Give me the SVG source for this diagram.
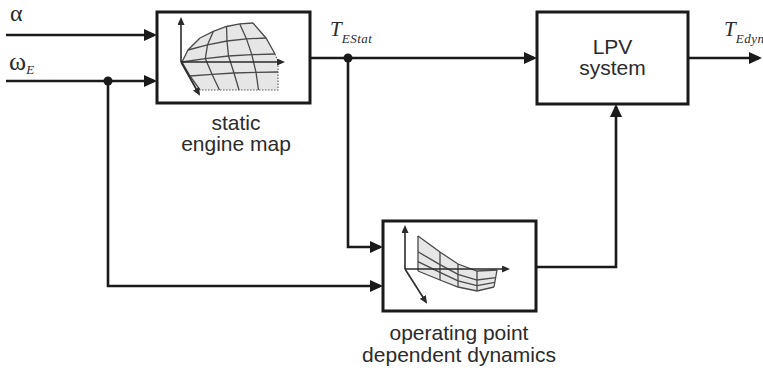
<svg xmlns="http://www.w3.org/2000/svg" width="763" height="372" viewBox="0 0 763 372">
  <defs>
    <marker id="arr" markerWidth="13" markerHeight="12" refX="10" refY="6" orient="auto" markerUnits="userSpaceOnUse">
      <path d="M0,0 L13,6 L0,12 z" fill="#1a1a1a"/>
    </marker>
    <marker id="ax" markerWidth="8" markerHeight="7" refX="6" refY="3.5" orient="auto" markerUnits="userSpaceOnUse">
      <path d="M0,0 L8,3.5 L0,7 z" fill="#2a2a2a"/>
    </marker>
    <style>
      .box { fill: #ffffff; stroke: #1a1a1a; stroke-width: 3; }
      .wire { fill: none; stroke: #1a1a1a; stroke-width: 2.6; }
      .dot { fill: #1a1a1a; }
      .lbl { font-family: "Liberation Sans", Arial, sans-serif; font-size: 21px; fill: #2b2b2b; text-anchor: middle; }
      .math { font-family: "Liberation Serif", "Times New Roman", serif; fill: #2b2b2b; }
      .axis { fill: none; stroke: #2a2a2a; stroke-width: 1.6; }
      .surf { fill: #dcdcdc; fill-opacity: 0.7; stroke: none; }
      .grid { fill: none; stroke: #4a4a4a; stroke-width: 1.3; }
      .dash { fill: none; stroke: #555; stroke-width: 1.1; stroke-dasharray: 1.5 1.5; }
    </style>
  </defs>

  <!-- signal wires -->
  <g id="connectors">
    <path class="wire" d="M6,35 H154" marker-end="url(#arr)"/>
    <path class="wire" d="M6,81 H154" marker-end="url(#arr)"/>
    <path class="wire" d="M108,81 V286 H380" marker-end="url(#arr)"/>
    <path class="wire" d="M310,58 H534" marker-end="url(#arr)"/>
    <path class="wire" d="M348,58 V247 H380" marker-end="url(#arr)"/>
    <path class="wire" d="M688,58 H759" marker-end="url(#arr)"/>
    <path class="wire" d="M536,267 H616 V107" marker-end="url(#arr)"/>
    <circle class="dot" cx="108" cy="81" r="4.5"/>
    <circle class="dot" cx="348" cy="58" r="4.5"/>
  </g>

  <!-- signal labels -->
  <g id="signals">
    <text class="math" x="10" y="21" font-size="24">α</text>
    <text class="math" x="9" y="70" font-size="26">ω<tspan font-size="13" font-style="italic" dy="4">E</tspan></text>
    <text class="math" x="330" y="36" font-size="21" font-style="italic">T<tspan font-size="13" dy="7" letter-spacing="0.5">EStat</tspan></text>
    <text class="math" x="724" y="36" font-size="21" font-style="italic">T<tspan font-size="13" dy="7" letter-spacing="0.5">Edyn</tspan></text>
  </g>

  <!-- static engine map block -->
  <g id="static-map">
    <rect class="box" x="157" y="12" width="153" height="91"/>
    <!-- surface patch -->
    <path class="surf" d="M200,38 L213.3,31.4 L226.5,26.5 L239.8,23.9 L253,23 L266,38 L275,54 L278,72 L278,90 L258.5,90 L239,90 L219.5,90 L200,90 L190,76 L182,62 L188,50 Z"/>
    <path class="grid" d="M200,38 L213.3,31.4 L226.5,26.5 L239.8,23.9 L253,23"/>
    <path class="grid" d="M188,50 L207.5,44.9 L227,41 L246.5,38.9 L266,38"/>
    <path class="grid" d="M182,62 L205.3,58.6 L228.5,56 L251.8,54.6 L275,54"/>
    <path class="grid" d="M190,76 L212,74.3 L234,73 L256,72.3 L278,72"/>
    <path class="grid" d="M200,38 L188,50 L182,62 L190,76 L200,90"/>
    <path class="grid" d="M213.3,31.4 L207.5,44.9 L205.3,58.6 L212,74.3 L219.5,90"/>
    <path class="grid" d="M226.5,26.5 L227,41 L228.5,56 L234,73 L239,90"/>
    <path class="grid" d="M239.8,23.9 L246.5,38.9 L251.8,54.6 L256,72.3 L258.5,90"/>
    <path class="grid" d="M253,23 L266,38 L275,54"/>
    <path class="dash" d="M275,54 L278,62 L278,90 L200,90"/>
    <!-- axes -->
    <path class="axis" d="M181,62 V19" marker-end="url(#ax)"/>
    <path class="axis" d="M181,62 H283" marker-end="url(#ax)"/>
    <path class="axis" d="M181,62 L199,94" marker-end="url(#ax)"/>
    <text class="lbl" x="236" y="130">static</text>
    <text class="lbl" x="236" y="151">engine map</text>
  </g>

  <!-- LPV block -->
  <g id="lpv">
    <rect class="box" x="537" y="12" width="151" height="92"/>
    <text class="lbl" x="612.5" y="54">LPV</text>
    <text class="lbl" x="612.5" y="75">system</text>
  </g>

  <!-- operating point dependent dynamics block -->
  <g id="op-dynamics">
    <rect class="box" x="383" y="221" width="153" height="90"/>
    <path class="surf" d="M418,236 L440,252 L458,264 L477,271 L497,270 L494,287 L477,291 L458,287 L440,280 L418,271 Z"/>
    <path class="grid" d="M418,236 L440,252 L458,264 L477,271 L497,270"/>
    <path class="grid" d="M418,251.8 L440,264.6 L458,274.4 L477,280 L495.7,277.7"/>
    <path class="grid" d="M418,261.6 L440,272.4 L458,280.8 L477,285.6 L494.8,282.4"/>
    <path class="grid" d="M418,271 L440,280 L458,287 L477,291 L494,287"/>
    <path class="grid" d="M418,236 V271 M440,252 V280 M458,264 V287 M477,271 V291 M497,270 L494,287"/>
    <path class="axis" d="M405,269 V227" marker-end="url(#ax)"/>
    <path class="axis" d="M405,269 H508" marker-end="url(#ax)"/>
    <path class="axis" d="M405,269 L426,302" marker-end="url(#ax)"/>
    <text class="lbl" x="459" y="340">operating point</text>
    <text class="lbl" x="459" y="362">dependent dynamics</text>
  </g>
</svg>
